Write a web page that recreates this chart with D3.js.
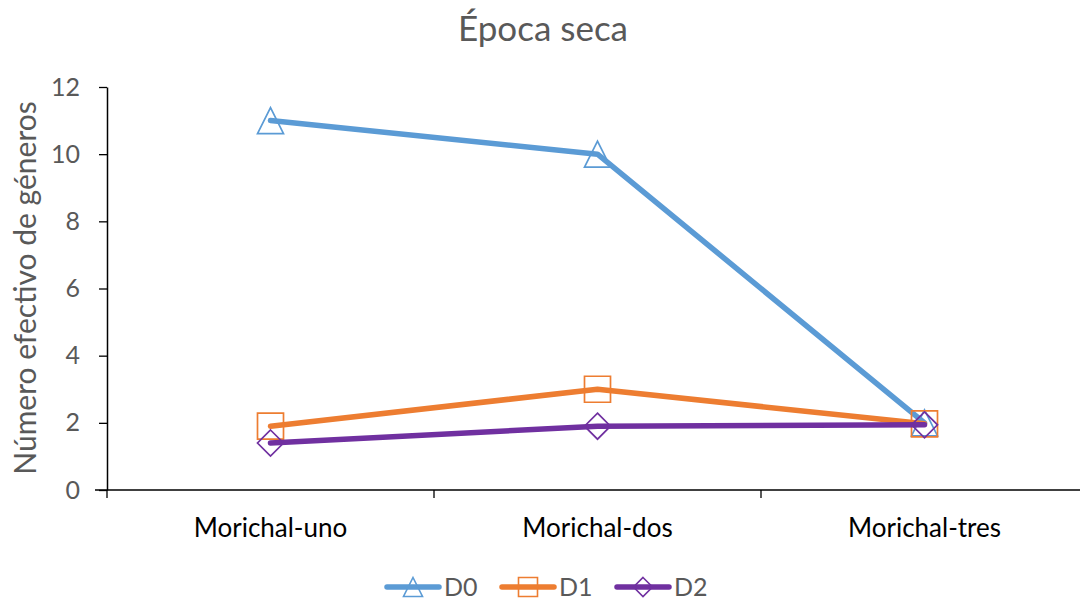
<!DOCTYPE html>
<html>
<head>
<meta charset="utf-8">
<script src="https://cdn.jsdelivr.net/npm/d3@7"></script>
<style>
  html, body { margin: 0; padding: 0; background: #fff; }
  svg { display: block; font-family: Lato, "Open Sans", sans-serif; }
</style>
</head>
<body>
<svg id="chart" width="1080" height="602"></svg>
<script>
// Sites along the x axis
const categories = ["Morichal-uno", "Morichal-dos", "Morichal-tres"];
// Effective number of genera per diversity order
const seriesNames = ["D0", "D1", "D2"];
const d0 = [11, 10, 2];
const d1 = [1.9, 3, 1.97];
const d2 = [1.4, 1.9, 1.94];
const yTicks = [0, 2, 4, 6, 8, 10, 12];

const colors = { D0: "#5b9bd5", D1: "#ed7d31", D2: "#7030a0" };
const symbols = { D0: "triangle", D1: "square", D2: "diamond" };
const series = [
  { name: "D0", values: d0 },
  { name: "D1", values: d1 },
  { name: "D2", values: d2 }
];

const svg = d3.select("#chart");
const plotLeft = 107, plotRight = 1088, plotTop = 87, plotBottom = 490;

const x = d3.scaleBand().domain(categories).range([plotLeft, plotRight]);
const y = d3.scaleLinear().domain([0, 12]).range([plotBottom, plotTop]);

// Marker shapes sized by their bounding box (size = side length in px)
const markerTypes = {
  triangle: { draw(ctx, s) { const h = s / 2; ctx.moveTo(0, -h); ctx.lineTo(h, h); ctx.lineTo(-h, h); ctx.closePath(); } },
  square:   { draw(ctx, s) { const h = s / 2; ctx.rect(-h, -h, s, s); } },
  diamond:  { draw(ctx, s) { const h = s / 2; ctx.moveTo(0, -h); ctx.lineTo(h, 0); ctx.lineTo(0, h); ctx.lineTo(-h, 0); ctx.closePath(); } }
};

// Title
svg.append("text")
  .attr("x", 543).attr("y", 41)
  .attr("text-anchor", "middle")
  .attr("font-size", 35)
  .attr("fill", "#595959")
  .text("Época seca");

// Y axis
const yAxis = svg.append("g")
  .attr("transform", `translate(${plotLeft},0)`)
  .call(d3.axisLeft(y).tickValues(yTicks).tickSize(8).tickPadding(19).tickSizeOuter(0));
yAxis.select(".domain").attr("stroke", "#000").attr("stroke-width", 1.5);
yAxis.selectAll(".tick line").attr("stroke", "#000").attr("stroke-width", 1.3);
yAxis.selectAll(".tick text")
  .attr("font-size", 25).attr("fill", "#595959")
  .attr("font-family", "Lato, 'Open Sans', sans-serif");

// X axis with ticks at band boundaries
const xAxisG = svg.append("g").attr("transform", `translate(0,${plotBottom})`);
xAxisG.append("line")
  .attr("x1", plotLeft - 12).attr("x2", plotRight)
  .attr("stroke", "#000").attr("stroke-width", 1.5);
const boundaries = categories.map(c => x(c));
xAxisG.selectAll(".xtick").data(boundaries).join("line")
  .attr("class", "xtick")
  .attr("x1", d => d).attr("x2", d => d)
  .attr("y1", 0).attr("y2", 8)
  .attr("stroke", "#000").attr("stroke-width", 1.3);
xAxisG.selectAll(".xlabel").data(categories).join("text")
  .attr("class", "xlabel")
  .attr("x", d => x(d) + x.bandwidth() / 2)
  .attr("y", 47)
  .attr("text-anchor", "middle")
  .attr("font-size", 26)
  .attr("fill", "#000")
  .text(d => d);

// Y axis title
svg.append("text")
  .attr("transform", `translate(36,288) rotate(-90)`)
  .attr("text-anchor", "middle")
  .attr("font-size", 30)
  .attr("fill", "#595959")
  .text("Número efectivo de géneros");

const line = d3.line()
  .x((d, i) => x(categories[i]) + x.bandwidth() / 2)
  .y(d => y(d));

series.forEach(s => {
  const g = svg.append("g");
  g.append("path")
    .datum(s.values)
    .attr("d", line)
    .attr("fill", "none")
    .attr("stroke", colors[s.name])
    .attr("stroke-width", 5.5)
    .attr("stroke-linecap", "round")
    .attr("stroke-linejoin", "round");
  g.selectAll("path.m").data(s.values).join("path")
    .attr("class", "m")
    .attr("transform", (d, i) => `translate(${x(categories[i]) + x.bandwidth() / 2},${y(d)})`)
    .attr("d", d3.symbol().type(markerTypes[symbols[s.name]]).size(26))
    .attr("fill", "none")
    .attr("stroke", colors[s.name])
    .attr("stroke-width", 1.7);
});

// Legend
const legendItems = [
  { name: "D0", x: 387 },
  { name: "D1", x: 502 },
  { name: "D2", x: 617 }
];
const lg = svg.append("g");
legendItems.forEach(it => {
  const cy = 587;
  lg.append("line")
    .attr("x1", it.x).attr("x2", it.x + 52)
    .attr("y1", cy).attr("y2", cy)
    .attr("stroke", colors[it.name]).attr("stroke-width", 5.5)
    .attr("stroke-linecap", "round");
  lg.append("path")
    .attr("transform", `translate(${it.x + 26},${cy})`)
    .attr("d", d3.symbol().type(markerTypes[symbols[it.name]]).size(19))
    .attr("fill", "none")
    .attr("stroke", colors[it.name])
    .attr("stroke-width", 1.6);
  lg.append("text")
    .attr("x", it.x + 57).attr("y", cy + 9)
    .attr("font-size", 25)
    .attr("fill", "#595959")
    .text(it.name);
});
</script>
</body>
</html>
